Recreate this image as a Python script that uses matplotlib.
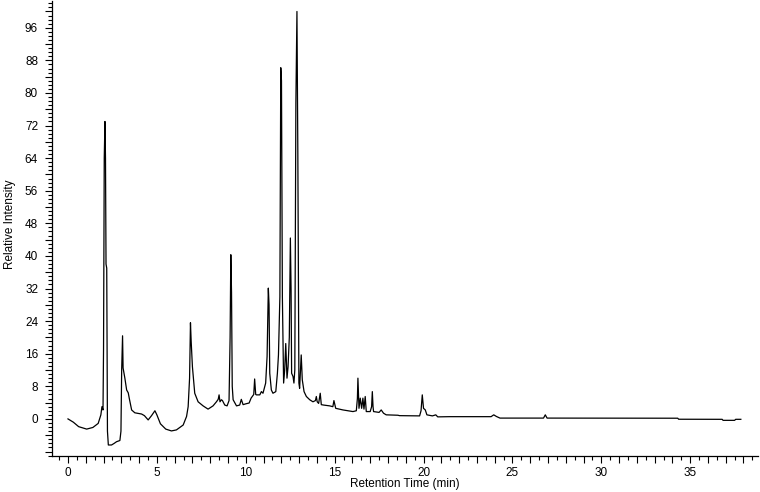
import matplotlib
matplotlib.use("Agg")
import matplotlib.pyplot as plt
from matplotlib.ticker import MultipleLocator, FuncFormatter

plt.rcParams['font.family'] = ['Liberation Sans', 'DejaVu Sans']

# chromatogram trace (time in min, relative intensity)
time_min = [
    0.00, 0.30, 0.60, 1.05, 1.40, 1.70, 1.85, 1.91, 1.97, 2.00,
    2.04, 2.08, 2.11, 2.14, 2.18, 2.22, 2.27, 2.45, 2.60, 2.73,
    2.92, 2.98, 3.02, 3.07, 3.10, 3.20, 3.30, 3.39, 3.45, 3.58,
    3.76, 4.14, 4.30, 4.51, 4.70, 4.89, 5.00, 5.20, 5.50, 5.82,
    6.10, 6.48, 6.67, 6.76, 6.84, 6.89, 6.93, 7.00, 7.13, 7.32,
    7.60, 7.88, 8.16, 8.35, 8.45, 8.50, 8.55, 8.63, 8.69, 8.82,
    8.95, 9.06, 9.12, 9.16, 9.20, 9.24, 9.29, 9.48, 9.66, 9.75,
    9.85, 10.00, 10.19, 10.30, 10.45, 10.50, 10.56, 10.60, 10.79, 10.88,
    10.97, 11.12, 11.20, 11.27, 11.31, 11.35, 11.44, 11.53, 11.69, 11.78,
    11.84, 11.92, 11.97, 12.01, 12.06, 12.13, 12.19, 12.25, 12.32, 12.38,
    12.45, 12.51, 12.55, 12.58, 12.66, 12.71, 12.76, 12.82, 12.88, 12.93,
    12.99, 13.03, 13.12, 13.18, 13.28, 13.41, 13.60, 13.78, 13.92, 13.97,
    14.02, 14.10, 14.19, 14.25, 14.38, 14.72, 14.90, 14.96, 15.06, 15.47,
    16.03, 16.22, 16.28, 16.31, 16.35, 16.37, 16.44, 16.52, 16.59, 16.65,
    16.72, 16.78, 17.00, 17.08, 17.12, 17.16, 17.19, 17.50, 17.62, 17.75,
    17.90, 18.56, 18.65, 19.78, 19.86, 19.93, 19.97, 20.00, 20.10, 20.19,
    20.50, 20.69, 20.80, 21.46, 23.80, 23.95, 24.10, 24.30, 26.75, 26.85,
    26.95, 34.30, 34.35, 36.80, 36.85, 37.50, 37.56, 37.85,
]
intensity = [
    0.0, -0.8, -1.9, -2.5, -2.1, -1.1, 1.0, 3.0, 2.2, 17.0,
    64.0, 73.0, 64.0, 38.0, 37.0, -3.0, -6.4, -6.4, -6.0, -5.6,
    -5.3, -3.0, 12.0, 20.4, 12.5, 10.0, 7.1, 6.4, 5.0, 2.2,
    1.5, 1.2, 0.8, -0.25, 0.8, 2.0, 1.0, -1.2, -2.5, -2.95,
    -2.7, -1.5, 0.6, 3.0, 10.0, 23.6, 19.0, 12.8, 6.3, 4.2,
    3.2, 2.4, 3.2, 4.2, 4.8, 5.9, 4.2, 4.7, 4.5, 3.4,
    3.2, 4.5, 20.0, 40.3, 31.0, 8.0, 4.7, 3.2, 3.4, 4.8,
    3.5, 3.7, 3.9, 5.1, 6.0, 9.8, 6.0, 5.9, 5.9, 6.7,
    6.3, 8.8, 15.3, 32.1, 28.0, 11.2, 7.1, 6.3, 6.7, 11.2,
    15.7, 30.0, 86.2, 83.0, 30.0, 8.8, 12.0, 18.5, 10.0, 12.8,
    20.0, 44.4, 31.7, 11.2, 10.4, 8.8, 12.0, 77.5, 100.0, 65.2,
    8.8, 7.5, 15.7, 9.6, 6.7, 5.5, 4.7, 4.2, 4.5, 5.5,
    4.2, 3.8, 6.3, 3.5, 3.4, 3.2, 3.0, 4.5, 2.6, 2.2,
    1.8, 2.0, 5.0, 10.0, 5.0, 2.6, 5.1, 2.6, 5.1, 2.4,
    5.5, 1.8, 1.8, 3.0, 6.7, 3.0, 1.8, 1.6, 2.2, 1.4,
    1.0, 0.9, 0.8, 0.74, 2.0, 5.9, 4.0, 2.6, 2.2, 1.0,
    0.74, 1.0, 0.5, 0.55, 0.55, 1.0, 0.6, 0.2, 0.2, 1.0,
    0.2, 0.17, -0.08, -0.1, -0.35, -0.35, -0.1, -0.1,
]

y_labels = list(range(0, 97, 8))

fig = plt.figure(figsize=(7.6, 4.92), dpi=100)
ax = fig.add_axes([0.0684, 0.0732, 0.9286, 0.925])
ax.plot(time_min, intensity, color='black', linewidth=0.9)

ax.set_xlim(-0.9, 38.8)
ax.set_ylim(-9.1, 102.6)

for side in ['top', 'right']:
    ax.spines[side].set_visible(False)
for side in ['left', 'bottom']:
    ax.spines[side].set_linewidth(0.9)

ax.xaxis.set_major_locator(MultipleLocator(1))
ax.xaxis.set_minor_locator(MultipleLocator(0.5))
ax.xaxis.set_major_formatter(FuncFormatter(lambda v, p: f"{v:.0f}" if round(v) % 5 == 0 and v >= 0 else ""))

ax.yaxis.set_major_locator(MultipleLocator(4))
ax.yaxis.set_minor_locator(MultipleLocator(1))
ax.yaxis.set_major_formatter(FuncFormatter(lambda v, p: f"{v:.0f}" if round(v) in y_labels else ""))

ax.tick_params(axis='both', which='major', length=5, width=0.8, labelsize=8.5, direction='out')
ax.tick_params(axis='both', which='minor', length=3, width=0.8, direction='out')
ax.tick_params(axis='y', pad=5)
ax.tick_params(axis='x', pad=3)

ax.set_xlabel('Retention Time (min)', fontsize=8.5)
ax.set_ylabel('Relative Intensity', fontsize=8.5)
ax.xaxis.set_label_coords(0.5, -0.062)
ax.yaxis.set_label_coords(-0.06, 0.51)
ax.xaxis.label.set_va('center')
ax.yaxis.label.set_va('center')

fig.savefig('out.png', dpi=100)
